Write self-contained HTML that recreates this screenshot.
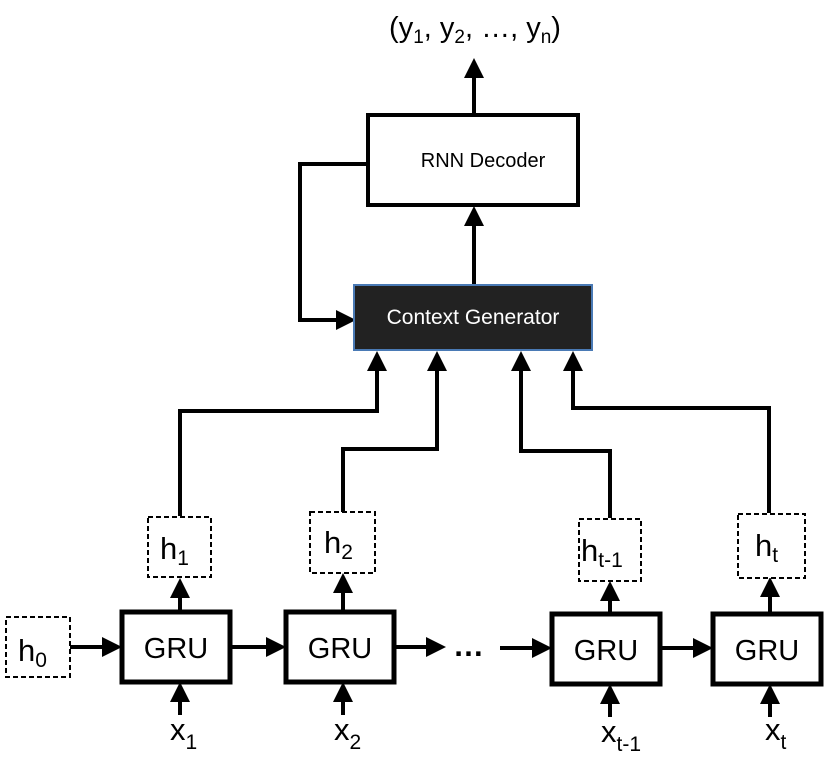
<!DOCTYPE html>
<html><head><meta charset="utf-8"><style>body{margin:0;background:#fff}svg{display:block}text{font-family:"Liberation Sans",sans-serif}</style></head><body>
<svg width="830" height="759" viewBox="0 0 830 759" xmlns="http://www.w3.org/2000/svg">
<defs><marker id="a" markerWidth="5" markerHeight="5" refX="4" refY="2.5" orient="auto" markerUnits="strokeWidth"><path d="M0,0 L5,2.5 L0,5 Z" fill="#000"/></marker></defs>
<g fill="none" stroke="#000" stroke-width="4">
<rect x="368" y="115" width="210" height="90" fill="#fff"/>
<rect x="122" y="612" width="108" height="70" stroke-width="5"/>
<rect x="286" y="612" width="108" height="70" stroke-width="5"/>
<rect x="552" y="614" width="108" height="70" stroke-width="5"/>
<rect x="713" y="614" width="108" height="70" stroke-width="5"/>
<g marker-end="url(#a)">
<path d="M474 115 V62"/>
<path d="M474 285 V210"/>
<path d="M368 164 H300 V320 H352"/>
<path d="M180 516 V411 H377 V355"/>
<path d="M343 512 V449 H437 V355"/>
<path d="M610 518 V451 H521 V355"/>
<path d="M769 513 V408 H573 V355"/>
<path d="M180 612 V582"/>
<path d="M343 612 V577"/>
<path d="M610 614 V585"/>
<path d="M770 614 V581"/>
<path d="M180 715 V686"/>
<path d="M343 715 V686"/>
<path d="M610 717 V688"/>
<path d="M770 717 V688"/>
<path d="M70 647 H118"/>
<path d="M230 647 H282"/>
<path d="M394 647 H442"/>
<path d="M500 648 H548"/>
<path d="M660 648 H709"/>
</g>
</g>
<g fill="#fff" stroke="#000" stroke-width="2" stroke-dasharray="5,3">
<rect x="6" y="617" width="64" height="60"/>
<rect x="148" y="517" width="63" height="60"/>
<rect x="310" y="512" width="65" height="61"/>
<rect x="579" y="519" width="62" height="62"/>
<rect x="738" y="514" width="67" height="64"/>
</g>
<rect x="354" y="285" width="238" height="65" fill="#222" stroke="#4a7ab5" stroke-width="2"/>
<text x="473" y="324" font-size="21" fill="#fff" text-anchor="middle">Context  Generator</text>
<text x="483" y="167" font-size="20" text-anchor="middle">RNN Decoder</text>
<text x="475" y="37" font-size="29" text-anchor="middle">(y<tspan font-size="19" dy="6">1</tspan><tspan dy="-6">, y</tspan><tspan font-size="19" dy="6">2</tspan><tspan dy="-6">, …, y</tspan><tspan font-size="19" dy="6">n</tspan><tspan dy="-6">)</tspan></text>
<g font-size="29" text-anchor="middle">
<text x="176" y="658">GRU</text><text x="340" y="658">GRU</text><text x="606" y="660">GRU</text><text x="767" y="660">GRU</text>
</g>
<g font-size="31">
<text x="18" y="661">h<tspan font-size="21" dy="6">0</tspan></text>
<text x="160" y="559">h<tspan font-size="21" dy="6">1</tspan></text>
<text x="324" y="553">h<tspan font-size="21" dy="6">2</tspan></text>
<text x="581" y="561">h<tspan font-size="21" dy="6">t-1</tspan></text>
<text x="755" y="556">h<tspan font-size="21" dy="6">t</tspan></text>
<text x="170" y="740">x<tspan font-size="21" dy="9">1</tspan></text>
<text x="334" y="740">x<tspan font-size="21" dy="9">2</tspan></text>
<text x="601" y="742">x<tspan font-size="21" dy="9">t-1</tspan></text>
<text x="765" y="740">x<tspan font-size="21" dy="9">t</tspan></text>
<text x="453" y="656" font-weight="bold">…</text>
</g>
</svg>
</body></html>
